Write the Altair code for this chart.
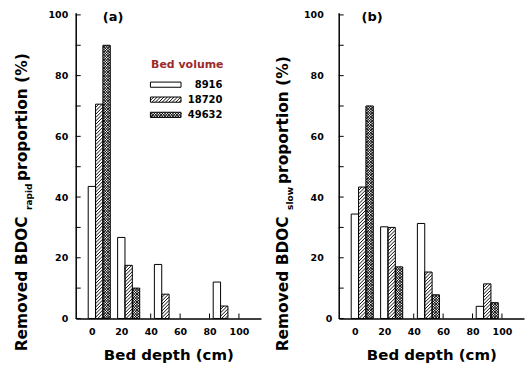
import json
import altair as alt
import pandas as pd

# ---------------- data ----------------
DEPTH_CM = [5, 25, 50, 90]                # bed depth (group centres, cm)
BED_VOLUMES = ["8916", "18720", "49632"]  # legend categories
RAPID_8916 = [43.5, 26.7, 17.8, 12.0]
RAPID_18720 = [70.6, 17.5, 8.0, 4.1]
RAPID_49632 = [90.0, 10.0, 0.0, 0.0]
SLOW_8916 = [34.4, 30.2, 31.3, 4.0]
SLOW_18720 = [43.3, 30.0, 15.3, 11.4]
SLOW_49632 = [70.0, 17.0, 7.8, 5.2]
X_TICK_VALUES = [0, 20, 40, 60, 80, 100]
Y_TICK_VALUES = [0, 20, 40, 60, 80, 100]
Y_MINOR_TICKS = [0, 10, 20, 30, 40, 50, 60, 70, 80, 90, 100]

# ---------------- layout / style ----------------
FONT = "DejaVu Sans"
W_PX, H_PX = 186, 307
X_DOM = [-11, 115]
Y_DOM = [0, 100.75]
PX_PER_X = W_PX / (X_DOM[1] - X_DOM[0])
PX_PER_Y = H_PX / (Y_DOM[1] - Y_DOM[0])
R = PX_PER_X / PX_PER_Y          # slope (y units per x unit) of a 45 deg hatch line
BAR_W = 5.0                      # bar width in x units
LEGEND_RED = "#9E2A2B"

PANEL_VALUES = {
    "a": [RAPID_8916, RAPID_18720, RAPID_49632],
    "b": [SLOW_8916, SLOW_18720, SLOW_49632],
}

rows = []
for p, series_list in PANEL_VALUES.items():
    for name, vals in zip(BED_VOLUMES, series_list):
        for d, v in zip(DEPTH_CM, vals):
            rows.append({"panel": p, "series": name, "depth": d, "value": v})
bars_df = pd.DataFrame(rows)


def xd(px):
    return X_DOM[0] + px / PX_PER_X


def yd(py):
    return Y_DOM[1] - py / PX_PER_Y


# legend swatches (pixel layout inside panel a converted to data units)
LEG_X0, LEG_X1 = 75, 105.7
LEG_ROWS = [72.3, 87.3, 102.6]
LEG_HALF = 2.6
legend_df = pd.DataFrame({
    "series": BED_VOLUMES,
    "xl": [xd(LEG_X0)] * 3,
    "xr": [xd(LEG_X1)] * 3,
    "yb": [yd(r + LEG_HALF) for r in LEG_ROWS],
    "yt": [yd(r - LEG_HALF) for r in LEG_ROWS],
})

XS = alt.Scale(domain=X_DOM, nice=False, zero=False)
YS = alt.Scale(domain=Y_DOM, nice=False, zero=False)

XAX = alt.Axis(values=X_TICK_VALUES, ticks=False, tickSize=0, grid=False,
               domainColor="black", domainWidth=1.5,
               labelFont=FONT, labelFontWeight="bold", labelFontSize=9.5,
               labelColor="black", labelPadding=8, labelFlush=False,
               title="Bed depth (cm)", titleFont=FONT, titleFontWeight="bold",
               titleFontSize=15, titleColor="black", titlePadding=12)


def yaxis(label_pad):
    return alt.Axis(values=Y_TICK_VALUES, ticks=False, tickSize=0, grid=False,
                    domainColor="black", domainWidth=1.5,
                    labelFont=FONT, labelFontWeight="bold", labelFontSize=9.5,
                    labelColor="black", labelPadding=label_pad, title=None)


def panel(p, sub, title_x, sub_y, piece3_y, label_pad, tag, tag_x, with_legend):
    YAX = yaxis(label_pad)

    def xe(f):
        return alt.X(f, type="quantitative", scale=XS, axis=XAX)

    def ye(f):
        return alt.Y(f, type="quantitative", scale=YS, axis=YAX)

    def hatch(base):
        return base.transform_filter(
            f"datum.series != '{BED_VOLUMES[0]}'"
        ).transform_calculate(
            dirs=f"datum.series == '{BED_VOLUMES[2]}' ? [1, -1] : [1]",
            step=f"datum.series == '{BED_VOLUMES[2]}' ? 1.8 : 2.3",
            W=f"(datum.yt - datum.yb) / {R}",
        ).transform_flatten(["dirs"], ["dir"]).transform_calculate(
            ts="datum.dir > 0 ? sequence(datum.xl - datum.W, datum.xr, datum.step)"
               " : sequence(datum.xl, datum.xr + datum.W, datum.step)"
        ).transform_flatten(["ts"], ["t"]).transform_calculate(
            xa="datum.dir > 0 ? max(datum.xl, datum.t) : max(datum.xl, datum.t - datum.W)",
            xb="datum.dir > 0 ? min(datum.xr, datum.t + datum.W) : min(datum.xr, datum.t)",
        ).transform_calculate(
            ya=f"datum.yb + datum.dir * (datum.xa - datum.t) * {R}",
            yb2=f"datum.yb + datum.dir * (datum.xb - datum.t) * {R}",
        ).transform_filter("datum.xb - datum.xa > 0.05").mark_rule(
            stroke="black", strokeWidth=0.95
        ).encode(x=xe("xa"), x2="xb:Q", y=ye("ya"), y2="yb2:Q")

    layers = []
    # inward ticks
    layers.append(alt.Chart(pd.DataFrame({"v": X_TICK_VALUES})).mark_rule(
        color="black", strokeWidth=1).encode(
        x=xe("v"), y=alt.value(H_PX), y2=alt.value(H_PX - 5)))
    layers.append(alt.Chart(pd.DataFrame({"v": Y_MINOR_TICKS})).mark_rule(
        color="black", strokeWidth=1).encode(
        y=ye("v"), x=alt.value(0), x2=alt.value(5)))

    bars = alt.Chart(bars_df).transform_filter(
        f"datum.panel == '{p}' && datum.value > 0"
    ).transform_calculate(
        idx=f"indexof({json.dumps(BED_VOLUMES)}, datum.series)"
    ).transform_calculate(
        xl=f"datum.depth + {BAR_W} * (datum.idx - 1) - {BAR_W / 2}",
        xr=f"datum.depth + {BAR_W} * (datum.idx - 1) + {BAR_W / 2}",
        yb="0",
        yt="datum.value",
    )
    layers.append(bars.mark_rect(fill="white", strokeWidth=0).encode(
        x=xe("xl"), x2="xr:Q", y=ye("yb"), y2="yt:Q"))
    layers.append(hatch(bars))
    layers.append(bars.mark_rect(fillOpacity=0, stroke="black", strokeWidth=1).encode(
        x=xe("xl"), x2="xr:Q", y=ye("yb"), y2="yt:Q"))

    if with_legend:
        leg = alt.Chart(legend_df)
        layers.append(leg.mark_rect(fill="white", strokeWidth=0).encode(
            x=xe("xl"), x2="xr:Q", y=ye("yb"), y2="yt:Q"))
        layers.append(hatch(leg))
        layers.append(leg.mark_rect(fillOpacity=0, stroke="black", strokeWidth=1).encode(
            x=xe("xl"), x2="xr:Q", y=ye("yb"), y2="yt:Q"))
        layers.append(alt.Chart(pd.DataFrame({"t": ["Bed volume"]})).mark_text(
            font=FONT, fontWeight="bold", fontSize=11, color=LEGEND_RED,
            align="center", baseline="middle").encode(
            x=alt.value(112), y=alt.value(52.3), text="t:N"))
        for name, ry in zip(BED_VOLUMES, LEG_ROWS):
            layers.append(alt.Chart(pd.DataFrame({"t": [name]})).mark_text(
                font=FONT, fontWeight="bold", fontSize=10, color="black",
                align="right", baseline="middle").encode(
                x=alt.value(147.3), y=alt.value(ry), text="t:N"))

    # y title with subscript
    def txt(t, size, x, y):
        return alt.Chart(pd.DataFrame({"t": [t]})).mark_text(
            font=FONT, fontWeight="bold", fontSize=size, color="black",
            angle=270, align="left", baseline="alphabetic").encode(
            x=alt.value(x), y=alt.value(y), text="t:N")

    layers.append(txt("Removed BDOC", 15.5, title_x, 340))
    layers.append(txt(sub, 9, title_x + 4.5, sub_y))
    layers.append(txt("proportion (%)", 15.5, title_x, piece3_y))

    layers.append(alt.Chart(pd.DataFrame({"t": [tag]})).mark_text(
        font=FONT, fontWeight="bold", fontSize=13, color="black",
        align="center", baseline="middle").encode(
        x=alt.value(tag_x), y=alt.value(4.6), text="t:N"))

    return alt.layer(*layers).properties(width=W_PX, height=H_PX)


pa = panel("a", "rapid", -48.5, 198, 169, 8, "(a)", 37.5, True)
pb = panel("b", "slow", -50.8, 198, 172,
           {"condition": {"test": "datum.value == 0", "value": 7}, "value": 15.5},
           "(b)", 33.5, False)

chart = alt.hconcat(pa, pb, spacing=78, bounds="flush").properties(
    padding={"left": 14, "top": 8, "right": 0, "bottom": 0},
    background="white",
).configure_view(stroke="transparent")

chart.save("out.html", embed_options={"renderer": "svg", "actions": False})
